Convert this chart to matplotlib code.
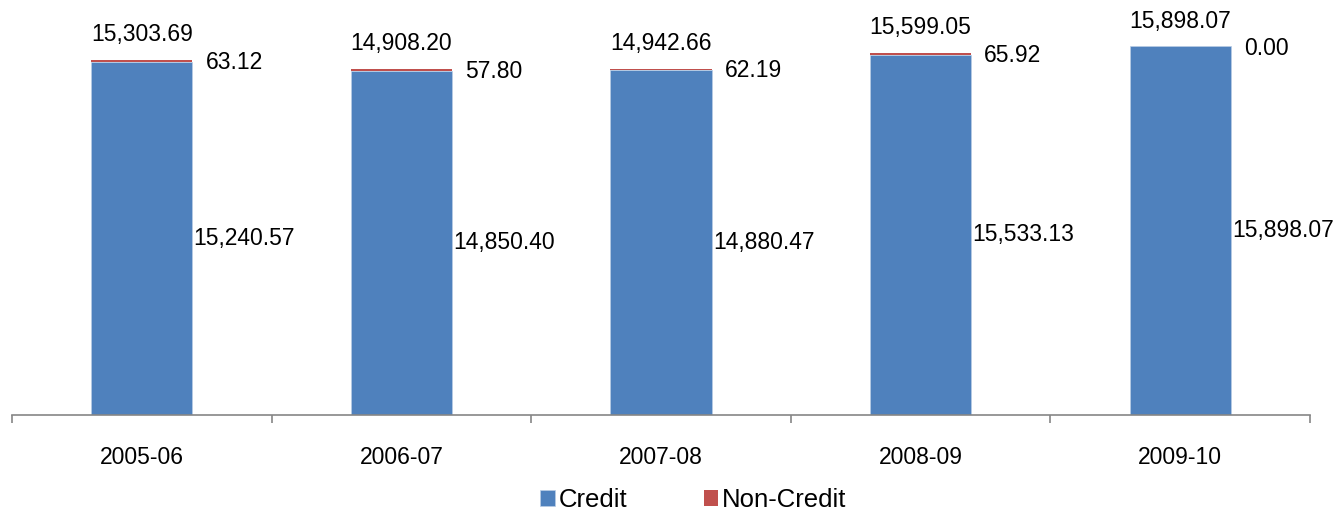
import numpy as np
import matplotlib.pyplot as plt

plt.rcParams['font.family'] = ['Liberation Sans', 'DejaVu Sans']

anni = ['2005-06', '2006-07', '2007-08', '2008-09', '2009-10']
credit = [15240.57, 14850.40, 14880.47, 15533.13, 15898.07]
non_credit = [63.12, 57.80, 62.19, 65.92, 0.00]
totale = [15303.69, 14908.20, 14942.66, 15599.05, 15898.07]

blu = '#4F81BD'
rosso = '#C0504D'
grigio = '#868686'

fig = plt.figure(figsize=(13.35, 5.14), dpi=100)
ax = fig.add_axes([12/1335, 1 - 415/514, 1298/1335, 415/514])

x = np.arange(len(anni))
w = 0.39
ax.bar(x, credit, w, color=blu, label='Credit', edgecolor='#B9CDE5', linewidth=0.5, zorder=2)
ax.bar(x, non_credit, w, bottom=credit, color=rosso, label='Non-Credit', linewidth=0, zorder=3)

fs = 16.5
for i in range(len(anni)):
    ax.text(x[i], totale[i] + 600, f'{totale[i]:,.2f}', ha='center', va='bottom', fontsize=fs)
    ax.text(x[i] + w/2 + 0.05, totale[i] - 100, f'{non_credit[i]:,.2f}', ha='left', va='center', fontsize=fs)
    ax.text(x[i] + w/2 + 0.005, credit[i]/2, f'{credit[i]:,.2f}', ha='left', va='center', fontsize=fs)

ax.set_xlim(-0.5, len(anni) - 0.5)
ax.set_ylim(0, 17900)
ax.set_yticks([])
for s in ['left', 'right', 'top']:
    ax.spines[s].set_visible(False)
ax.spines['bottom'].set_color(grigio)
ax.spines['bottom'].set_linewidth(1.2)

ax.set_xticks(x)
ax.set_xticklabels(anni, fontsize=fs)
ax.tick_params(axis='x', which='major', length=0, pad=22)
ax.set_xticks(np.arange(-0.5, len(anni)), minor=True)
ax.tick_params(axis='x', which='minor', length=6, width=1.2, color=grigio, direction='out')

ax.legend(loc='lower center', bbox_to_anchor=(0.525, -0.29), ncol=2, frameon=False,
          fontsize=18.5, handlelength=0.55, handleheight=0.55, handletextpad=0.15, columnspacing=3.0,
          bbox_transform=ax.transAxes)

fig.savefig('out.png', dpi=100)
